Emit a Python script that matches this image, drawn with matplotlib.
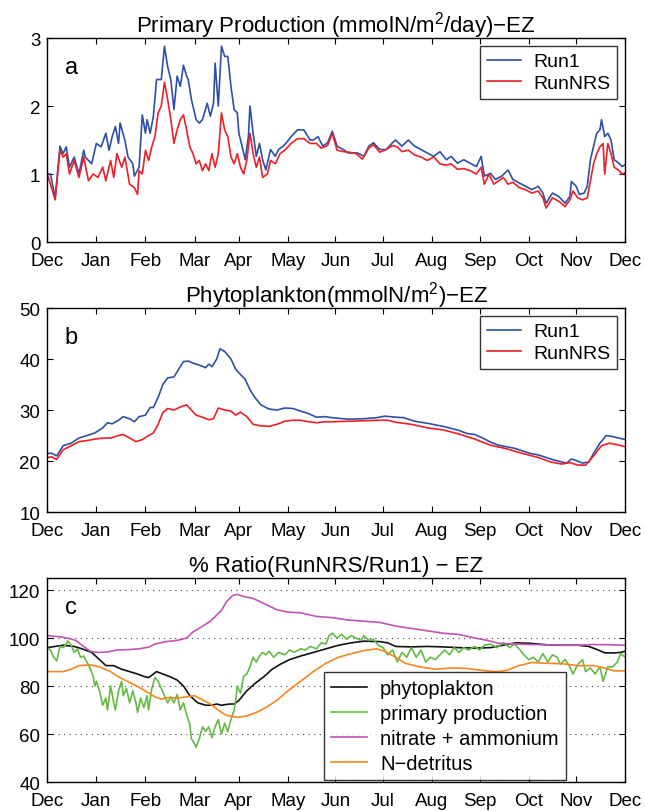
import matplotlib
matplotlib.use("Agg")
import matplotlib.pyplot as plt

plt.rcParams['font.family'] = ['Liberation Sans', 'DejaVu Sans']
plt.rcParams['mathtext.fontset'] = 'custom'
plt.rcParams['mathtext.rm'] = 'Liberation Sans'
plt.rcParams['mathtext.default'] = 'regular'

months = ["Dec", "Jan", "Feb", "Mar", "Apr", "May", "Jun",
          "Jul", "Aug", "Sep", "Oct", "Nov", "Dec"]
month_days = [0, 31, 62, 93, 121, 152, 182, 212, 243, 273, 304, 334, 365]

# panel a - primary production
pp_run1_day = [0, 2, 5, 8, 10, 12, 14, 17, 20, 23, 24, 28, 31, 34, 37, 39, 41, 43, 45, 46,
               49, 51, 54, 55, 58, 60, 62, 63, 65, 67, 69, 72, 74, 76, 78, 80, 82, 84, 86,
               88, 89, 91, 94, 96, 98, 101, 103, 105, 106, 108, 110, 112, 114, 116, 118,
               120, 121, 123, 125, 127, 128, 130, 132, 134, 136, 138, 141, 144, 146, 149,
               151, 154, 158, 162, 166, 168, 171, 174, 177, 180, 183, 187, 190, 196, 200,
               203, 206, 210, 214, 218, 220, 224, 228, 232, 236, 240, 244, 248, 252, 255,
               259, 263, 267, 271, 274, 276, 280, 283, 287, 291, 294, 298, 302, 306, 310,
               313, 315, 319, 323, 327, 330, 331, 334, 336, 339, 341, 343, 345, 347, 349,
               350, 352, 354, 356, 358, 361, 363, 365]
pp_run1 = [1.0, 1.0, 0.65, 1.41, 1.3, 1.4, 1.1, 1.25, 1.0, 1.35, 1.25, 1.15, 1.45, 1.4, 1.6,
           1.35, 1.55, 1.7, 1.45, 1.75, 1.5, 1.25, 1.15, 0.97, 1.1, 1.87, 1.6, 1.8, 1.6,
           1.85, 2.39, 2.39, 2.88, 2.58, 2.39, 1.95, 2.44, 2.29, 2.6, 2.44, 2.39, 2.1, 1.8,
           1.75, 1.8, 2.04, 1.85, 2.04, 2.63, 2.0, 2.88, 2.73, 2.73, 2.29, 1.95, 1.9, 1.6,
           1.41, 1.21, 1.55, 2.0, 1.6, 1.26, 1.45, 1.21, 1.06, 1.36, 1.26, 1.36, 1.41,
           1.46, 1.55, 1.65, 1.65, 1.5, 1.5, 1.55, 1.41, 1.46, 1.63, 1.41, 1.36, 1.31,
           1.31, 1.26, 1.41, 1.46, 1.36, 1.36, 1.46, 1.5, 1.41, 1.5, 1.41, 1.36, 1.31,
           1.26, 1.33, 1.21, 1.26, 1.16, 1.21, 1.16, 1.11, 1.26, 0.97, 1.01, 0.92, 0.97,
           1.06, 0.92, 0.87, 0.82, 0.77, 0.82, 0.72, 0.57, 0.72, 0.67, 0.57, 0.67, 0.89,
           0.82, 0.7, 0.72, 0.82, 1.21, 1.41, 1.6, 1.65, 1.8, 1.55, 1.6, 1.5, 1.21, 1.16,
           1.11, 1.14]

pp_nrs_day = [0, 5, 8, 10, 12, 14, 17, 20, 23, 26, 29, 32, 35, 37, 40, 42, 44, 47, 49, 52,
              55, 57, 58, 60, 62, 64, 66, 68, 70, 72, 74, 76, 78, 80, 82, 84, 86, 88, 90,
              92, 94, 96, 98, 100, 102, 104, 106, 108, 110, 112, 114, 116, 118, 120, 122,
              124, 126, 128, 130, 132, 134, 136, 139, 141, 144, 147, 150, 154, 158, 162,
              166, 170, 173, 177, 180, 183, 187, 191, 195, 199, 203, 206, 210, 214, 218,
              221, 224, 228, 232, 236, 240, 244, 248, 252, 255, 259, 263, 267, 271, 274,
              276, 279, 282, 285, 288, 291, 294, 298, 302, 306, 310, 313, 315, 319, 323,
              327, 330, 332, 335, 338, 341, 343, 345, 347, 349, 351, 352, 354, 356, 358,
              361, 363, 365]
pp_nrs = [1.0, 0.62, 1.35, 1.25, 1.3, 1.0, 1.2, 0.95, 1.25, 0.9, 1.0, 0.95, 1.1, 0.9, 1.2,
          0.95, 1.3, 1.1, 1.25, 0.85, 0.8, 0.7, 1.05, 1.0, 1.35, 1.2, 1.4, 1.55, 1.9, 2.0,
          2.35, 2.1, 1.8, 1.45, 1.65, 1.8, 1.87, 1.65, 1.4, 1.3, 1.15, 1.2, 1.05, 1.15,
          1.05, 1.3, 1.1, 1.3, 1.9, 1.65, 1.55, 1.25, 1.15, 1.3, 1.1, 1.0, 1.2, 1.6, 1.3,
          1.1, 1.25, 0.95, 1.0, 1.2, 1.15, 1.3, 1.35, 1.45, 1.52, 1.52, 1.45, 1.45, 1.38,
          1.42, 1.6, 1.35, 1.33, 1.32, 1.3, 1.22, 1.38, 1.43, 1.32, 1.36, 1.42, 1.4, 1.33,
          1.35, 1.28, 1.25, 1.2, 1.25, 1.15, 1.13, 1.15, 1.07, 1.08, 1.05, 1.0, 1.1, 0.85,
          1.0, 0.85, 0.9, 0.95, 0.85, 0.88, 0.8, 0.77, 0.72, 0.75, 0.65, 0.5, 0.65, 0.6,
          0.52, 0.62, 0.75, 0.65, 0.62, 0.65, 0.9, 1.15, 1.3, 1.4, 1.45, 1.0, 1.45, 1.3,
          1.1, 1.05, 1.0, 1.02]

# panel b - phytoplankton
phy_run1_day = [0, 3, 6, 10, 15, 20, 25, 30, 35, 38, 41, 45, 48, 52, 55, 58, 62, 65, 67, 70,
                73, 76, 80, 83, 86, 89, 92, 96, 100, 102, 104, 107, 109, 112, 116, 119, 121,
                125, 128, 131, 135, 140, 145, 150, 155, 160, 165, 170, 175, 180, 190, 200,
                208, 213, 220, 225, 232, 240, 250, 260, 265, 270, 275, 280, 285, 290, 295,
                300, 305, 310, 315, 320, 325, 328, 331, 334, 338, 342, 345, 349, 353, 357,
                361, 365]
phy_run1 = [21.5, 21.5, 21.0, 23.0, 23.5, 24.5, 25.0, 25.5, 26.5, 27.5, 27.3, 28.0, 28.7,
            28.3, 27.7, 28.7, 29.0, 30.5, 30.5, 32.5, 35.0, 36.3, 36.5, 38.0, 39.5, 39.6,
            39.2, 38.8, 38.3, 39.0, 38.5, 40.0, 42.0, 41.5, 40.0, 38.0, 37.3, 36.0, 34.0,
            32.5, 31.0, 30.2, 30.0, 30.4, 30.3, 29.8, 29.3, 28.6, 28.7, 28.5, 28.2, 28.3,
            28.5, 28.8, 28.6, 28.5, 27.8, 27.4, 26.8, 26.0, 25.4, 25.2, 24.5, 23.7, 23.1,
            22.8, 22.5, 22.0, 21.5, 21.2, 20.7, 20.2, 19.8, 19.6, 20.4, 20.1, 19.6, 19.8,
            21.5, 23.5, 25.0, 24.8, 24.5, 24.2]

phy_nrs_day = [0, 3, 6, 10, 15, 20, 25, 30, 35, 40, 45, 48, 52, 56, 60, 64, 67, 70, 73, 76,
               80, 84, 88, 91, 94, 98, 102, 105, 108, 112, 116, 119, 122, 126, 130, 135,
               140, 145, 150, 155, 160, 165, 170, 175, 180, 190, 200, 210, 215, 220, 230,
               240, 250, 260, 270, 280, 290, 300, 310, 318, 325, 330, 335, 340, 345, 350,
               355, 360, 365]
phy_nrs = [20.7, 20.8, 20.3, 22.2, 23.0, 23.8, 24.0, 24.3, 24.5, 24.5, 25.0, 25.2, 24.5,
           23.8, 24.2, 25.0, 25.5, 27.2, 29.5, 30.3, 30.0, 30.6, 31.0, 30.0, 29.0, 28.6,
           28.1, 28.3, 30.4, 30.0, 29.8, 29.0, 29.6, 28.7, 27.2, 26.9, 26.8, 27.2, 27.8,
           28.0, 28.0, 27.7, 27.5, 27.7, 27.7, 27.8, 27.9, 28.0, 28.0, 27.6, 27.2, 26.5,
           26.1, 25.3, 24.3, 23.1, 22.4, 21.5, 20.7, 19.8, 19.4, 19.7, 19.2, 19.2, 21.0,
           23.0, 23.5, 23.2, 22.8]

# panel c - ratios (%)
ratio_phy_day = [0, 5, 10, 17, 22, 28, 33, 37, 42, 47, 52, 57, 61, 64, 66, 69, 73, 77, 82,
                 86, 90, 95, 100, 104, 107, 110, 115, 118, 121, 126, 131, 137, 142, 147,
                 153, 160, 168, 176, 184, 192, 200, 210, 215, 220, 230, 240, 250, 260, 270,
                 280, 288, 296, 305, 315, 325, 335, 342, 348, 352, 358, 362, 365]
ratio_phy = [96, 96.5, 97, 96.5, 95.5, 94, 91, 88.5, 88.5, 87, 86, 85, 84, 83.5, 84.5, 86,
             85, 84, 82.5, 80, 76, 73, 72, 72, 72.5, 72, 72.5, 72.5, 74, 78, 81, 84, 87,
             89, 91, 92.5, 94, 95.5, 97, 98, 98.7, 98.5, 98, 96.5, 96.3, 96.5, 96.3, 96,
             95.8, 96, 97, 98, 97.8, 97.2, 97, 97, 96.5, 95, 93.8, 93.8, 94, 94.5]

ratio_pp_day = [0, 2, 4, 6, 8, 10, 12, 13, 15, 17, 19, 21, 23, 25, 27, 29, 30, 31, 33, 35,
                37, 38, 40, 42, 43, 45, 47, 48, 50, 52, 54, 56, 57, 59, 61, 63, 64, 66, 68,
                70, 72, 74, 76, 78, 80, 82, 84, 86, 88, 90, 91, 93, 94, 96, 98, 100, 102,
                104, 106, 108, 110, 112, 114, 116, 118, 119, 120, 122, 124, 126, 128, 130,
                132, 134, 136, 138, 140, 143, 146, 150, 153, 156, 160, 163, 166, 170, 173,
                176, 178, 180, 183, 186, 189, 192, 195, 198, 200, 203, 206, 209, 212, 215,
                218, 221, 224, 227, 230, 233, 236, 239, 242, 245, 248, 251, 254, 257, 260,
                263, 266, 270, 273, 276, 280, 284, 288, 292, 295, 298, 301, 304, 307, 310,
                313, 316, 319, 322, 324, 327, 330, 332, 335, 338, 340, 343, 346, 349, 351,
                354, 357, 360, 362, 365]
ratio_pp = [96, 95, 92, 90.5, 96.5, 96, 97.5, 98.8, 97, 94, 95.5, 92, 92.5, 90, 87.5, 84,
            80, 82, 78, 72, 75, 70, 80, 73, 70, 78, 82, 76, 79, 73, 78, 73, 69, 75, 71, 76,
            70, 79, 83.5, 82, 79, 76, 73, 75.5, 73, 76.5, 70, 73, 68, 64, 58, 56, 54.5, 58,
            63, 61, 63, 58.5, 63, 66, 60, 64.5, 61, 66, 70, 74, 80, 77, 84, 85, 88, 92, 90,
            92.5, 94, 93, 94.5, 92, 94, 93, 95, 94, 95.5, 95, 96.5, 95.5, 98, 97.5, 101,
            102, 100, 101.5, 99.5, 101, 100, 99, 101, 99, 99.5, 97, 96, 93, 95, 90, 94, 92,
            96, 92, 95, 90, 92, 91, 93, 95, 93, 96, 94, 96, 95, 96.5, 95, 97, 97.5, 96, 98,
            96, 97.5, 95.5, 93, 91, 92, 90, 93.5, 90, 93, 92, 89, 91, 88, 85, 89, 91, 86,
            87.5, 85, 88, 82, 88, 88, 90, 93.5, 92]

ratio_nut_day = [0, 8, 14, 18, 22, 27, 32, 38, 44, 52, 58, 64, 68, 75, 82, 88, 92, 97, 103,
                 110, 113, 117, 120, 124, 130, 138, 145, 152, 160, 170, 180, 190, 200, 210,
                 220, 230, 240, 250, 260, 270, 278, 285, 295, 305, 315, 325, 335, 345, 355,
                 365]
ratio_nut = [101, 100.5, 99.8, 99, 97, 94.5, 94, 94.2, 95, 95.2, 95.5, 96.2, 97.5, 98.5, 99,
             100, 102.5, 104.5, 107, 111.5, 115, 117.7, 118.2, 117.3, 116.5, 114, 111.8,
             110.8, 110.5, 109, 108.5, 107.5, 107, 106.5, 105, 104, 103, 102, 101.5, 100,
             99, 97.8, 97.5, 97.3, 97.2, 97, 97, 97.3, 97.2, 97]

ratio_det_day = [0, 10, 15, 20, 27, 33, 40, 45, 52, 58, 63, 68, 72, 76, 82, 88, 93, 98, 103,
                 108, 113, 120, 126, 132, 138, 145, 152, 160, 168, 176, 184, 192, 200, 208,
                 213, 220, 226, 235, 245, 255, 265, 275, 283, 290, 298, 306, 315, 325, 335,
                 345, 352, 358, 365]
ratio_det = [86, 86, 87, 88.5, 88.8, 88, 86, 83.8, 81.5, 79.5, 77.5, 75.5, 74.5, 75.2, 75,
             75.5, 76, 74.2, 72.5, 70, 67.8, 67, 67.5, 69, 71, 74, 78, 82, 86, 89.5, 92,
             93.5, 94.8, 95.5, 94.5, 92, 89.5, 88, 87, 87.5, 87.3, 86.5, 86, 86.5, 88.5,
             89.8, 89.5, 89.3, 88.5, 88.5, 87.5, 86.3, 86.3]

blue = "#2f4fa6"
red = "#ee1f26"

fig = plt.figure(figsize=(6.45, 8.12), dpi=100)
L, W, H = 0.0733, 0.8961, 0.2512
ax_a = fig.add_axes([L, 0.7007, W, H])
ax_b = fig.add_axes([L, 0.3682, W, H])
ax_c = fig.add_axes([L, 0.0357, W, H])


def style(ax, ylim, yticks, title, letter):
    ax.set_xlim(0, 365)
    ax.set_ylim(*ylim)
    ax.set_xticks(month_days)
    ax.set_xticklabels(months)
    ax.set_yticks(yticks)
    ax.tick_params(direction='in', length=4, width=0.8, labelsize=13.5,
                   top=True, right=True, pad=5)
    ax.tick_params(axis='x', pad=7)
    for s in ax.spines.values():
        s.set_linewidth(1.0)
    ax.set_title(title, fontsize=16, pad=5)
    ax.text(0.03, 0.86, letter, transform=ax.transAxes, fontsize=17,
            ha='left', va='center')


ax_a.plot(pp_run1_day, pp_run1, color=blue, lw=1.2, label="Run1")
ax_a.plot(pp_nrs_day, pp_nrs, color=red, lw=1.2, label="RunNRS")
style(ax_a, (0, 3), [0, 1, 2, 3], "Primary Production (mmolN/m$^2$/day)\u2212EZ", "a")

ax_b.plot(phy_run1_day, phy_run1, color=blue, lw=1.2, label="Run1")
ax_b.plot(phy_nrs_day, phy_nrs, color=red, lw=1.2, label="RunNRS")
style(ax_b, (10, 50), [10, 20, 30, 40, 50], "Phytoplankton(mmolN/m$^2$)\u2212EZ", "b")

ax_c.plot(ratio_phy_day, ratio_phy, color="#111111", lw=1.2, label="phytoplakton")
ax_c.plot(ratio_pp_day, ratio_pp, color="#62bb45", lw=1.2, label="primary production")
ax_c.plot(ratio_nut_day, ratio_nut, color="#c055b5", lw=1.2, label="nitrate + ammonium")
ax_c.plot(ratio_det_day, ratio_det, color="#f7861f", lw=1.2, label="N\u2212detritus")
style(ax_c, (40, 125), [40, 60, 80, 100, 120], "% Ratio(RunNRS/Run1) \u2212 EZ", "c")
ax_c.yaxis.grid(True, linestyle=(0, (1, 4)), color='#444444', lw=0.8)

leg_kw = dict(frameon=True, fancybox=False, edgecolor='black',
              handletextpad=0.65, borderpad=0.35, borderaxespad=0)
for ax in (ax_a, ax_b):
    lg = ax.legend(loc='upper right', bbox_to_anchor=(0.986, 0.961), fontsize=14,
                   handlelength=1.75, labelspacing=0.2, **leg_kw)
    lg.get_frame().set_linewidth(1.0)
lg = ax_c.legend(loc='lower left', bbox_to_anchor=(0.478, 0.01), fontsize=14.5,
                 handlelength=1.8, labelspacing=0.3, **leg_kw)
lg.get_frame().set_linewidth(1.0)

fig.savefig("out.png", dpi=100)
